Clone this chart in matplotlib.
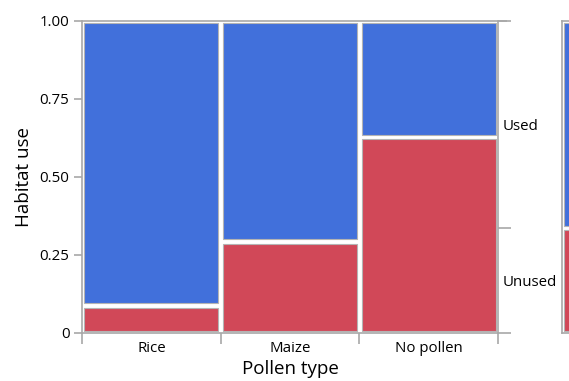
import matplotlib
matplotlib.use("Agg")
import matplotlib.pyplot as plt
from matplotlib.patches import Rectangle
import numpy as np

plt.rcParams['font.family'] = ['Open Sans', 'DejaVu Sans']

# Mosaic data: pollen groups, group sizes (column widths) and share of "Unused"
pollen_types = ["Rice", "Maize", "No pollen"]
group_counts = [1, 1, 1]
unused_share = [0.088, 0.293, 0.629]
levels = ["Unused", "Used"]
y_ticks = [0, 0.25, 0.50, 0.75, 1.00]
y_tick_labels = ["0", "0.25", "0.50", "0.75", "1.00"]

BLUE = "#4170DB"
RED = "#D14858"
FRAME = "#A8A8A8"
CELL_EDGE = "#B4B4B4"

W, H = 569, 381
fig = plt.figure(figsize=(W / 100, H / 100), dpi=100)

ax_l, ax_r, ax_t, ax_b = 82, 498, 21, 333
ax = fig.add_axes([ax_l / W, 1 - ax_b / H, (ax_r - ax_l) / W, (ax_b - ax_t) / H])
ax.set_xlim(0, 1)
ax.set_ylim(0, 1)

px_x = 1.0 / (ax_r - ax_l)
px_y = 1.0 / (ax_b - ax_t)
gap = 2.2  # half-gap in pixels between neighbouring cells

weights = np.array(group_counts, dtype=float)
edges = np.concatenate([[0], np.cumsum(weights / weights.sum())])
centers = (edges[:-1] + edges[1:]) / 2


def cell(axis, x0, x1, y0, y1, color):
    axis.add_patch(Rectangle((x0 + gap * px_x, y0 + gap * px_y),
                             (x1 - x0) - 2 * gap * px_x,
                             (y1 - y0) - 2 * gap * px_y,
                             facecolor=color, edgecolor=CELL_EDGE,
                             linewidth=0.8, clip_on=False))


for i, share in enumerate(unused_share):
    cell(ax, edges[i], edges[i + 1], 0, share, RED)
    cell(ax, edges[i], edges[i + 1], share, 1, BLUE)

# Frame and axes styling
for side in ["top", "right"]:
    ax.spines[side].set_visible(False)
for side in ["left", "bottom"]:
    ax.spines[side].set_color(FRAME)
    ax.spines[side].set_linewidth(1.2)

ax.set_yticks(y_ticks)
ax.set_yticklabels(y_tick_labels)
ax.set_xticks(edges)
ax.set_xticklabels([])
ax.set_xticks(centers, minor=True)
ax.set_xticklabels(pollen_types, minor=True)
ax.tick_params(axis="x", which="minor", length=0, pad=6, labelsize=10.8)
ax.tick_params(axis="x", which="major", length=8, color=FRAME, width=1.2)
ax.tick_params(axis="y", length=6, color=FRAME, width=1.2, labelsize=10.8, pad=3)

ax.set_xlabel("Pollen type", fontsize=13.5, labelpad=3)
ax.set_ylabel("Habitat use", fontsize=13.5, labelpad=5)

# Right-hand axis showing the overall split of habitat use
overall_unused = float(np.sum(np.array(unused_share) * weights) / weights.sum())
ax2 = ax.twinx()
ax2.set_ylim(0, 1)
for side in ["top", "left", "bottom"]:
    ax2.spines[side].set_visible(False)
ax2.spines["right"].set_color(FRAME)
ax2.spines["right"].set_linewidth(1.2)
ax2.set_yticks([0, overall_unused, 1])
ax2.set_yticklabels([])
ax2.set_yticks([overall_unused / 2, (1 + overall_unused) / 2], minor=True)
ax2.set_yticklabels(levels, minor=True)
ax2.tick_params(axis="y", which="major", length=9, color=FRAME, width=1.2)
ax2.tick_params(axis="y", which="minor", length=0, pad=3, labelsize=10.8)

# Top frame line, running out to the end of the right-hand ticks
ax.plot([0, 1 + 9 * px_x], [1, 1], color=FRAME, lw=1.2, clip_on=False,
        solid_capstyle="butt")

# Marginal bar for all groups together
mx0 = 562
axm = fig.add_axes([mx0 / W, 1 - ax_b / H, 60 / W, (ax_b - ax_t) / H])
axm.set_xlim(0, 1)
axm.set_ylim(0, 1)
axm.axis("off")
axm.plot([0, 0], [0, 1], color=FRAME, lw=1.2, clip_on=False)
axm.plot([0, 1], [1, 1], color=FRAME, lw=1.2, clip_on=False)
axm.plot([0, 1], [0, 0], color=FRAME, lw=1.2, clip_on=False)
mpx = 1.0 / 60
axm.add_patch(Rectangle((2 * mpx, gap * px_y), 1, overall_unused - 2 * gap * px_y,
                        facecolor=RED, edgecolor=CELL_EDGE, lw=0.8))
axm.add_patch(Rectangle((2 * mpx, overall_unused + gap * px_y), 1,
                        1 - overall_unused - 2 * gap * px_y,
                        facecolor=BLUE, edgecolor=CELL_EDGE, lw=0.8))

fig.savefig("out.png", dpi=100)
